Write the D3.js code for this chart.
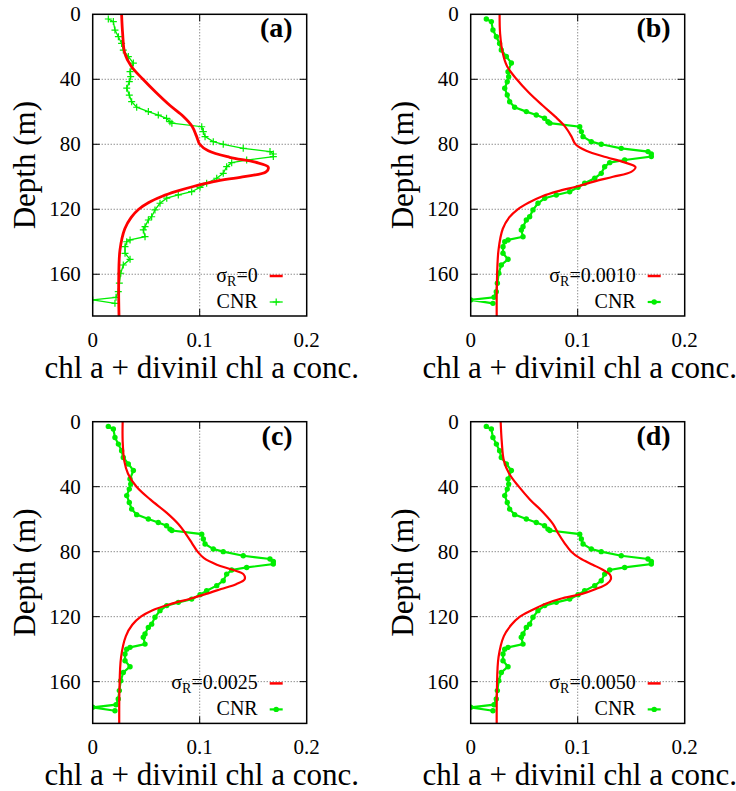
<!DOCTYPE html>
<html>
<head>
<meta charset="utf-8">
<script src="https://cdn.jsdelivr.net/npm/d3@7"></script>
<style>
  body { margin: 0; background: #fff; }
  svg { display: block; }
</style>
</head>
<body>
<script>
const width = 736
const height = 791

// CNR measured profile (same in the four panels)
const cnrDepth = [2.9, 4.5, 9.7, 13.8, 17.9, 22, 26, 30, 35.3, 38.4, 41.5, 45.5, 49.7, 53.8, 57.2,
  59.9, 62, 64, 66.1, 67, 69.2, 72.2, 75.3, 78.4, 80, 82.5, 84.5, 86, 87.6, 89.7, 91.3, 93.8,
  97.9, 100.9, 104, 106.5, 109.2, 111.2, 113.2, 116.3, 120.4, 124.6, 126.6, 130.7, 132.7, 136.9,
  138.9, 140, 143, 147.1, 150.8, 154.3, 159.4, 165.5, 170.7, 174.2, 175.8, 177.9]
const cnrConc = [0.0146, 0.0193, 0.0208, 0.024, 0.027, 0.0286, 0.0333, 0.038, 0.0349, 0.0355, 0.0342, 0.0318, 0.0342, 0.0364, 0.0411,
  0.052, 0.0613, 0.069, 0.0722, 0.074, 0.1019, 0.1034, 0.105, 0.1127, 0.122, 0.1407, 0.1657, 0.1688, 0.1688, 0.1439, 0.1299, 0.1252,
  0.122, 0.1159, 0.1065, 0.1003, 0.0925, 0.08, 0.0692, 0.0629, 0.0582, 0.0551, 0.052, 0.0489, 0.0473, 0.0489,
  0.0349, 0.0318, 0.0302, 0.0302, 0.0349, 0.0286, 0.0262, 0.0249, 0.0239, 0.0218, 0, 0.0208]

// model profiles for each sigma_R
const modelDepth = [0, 12, 24, 32, 40, 48, 56, 63, 69, 75, 80, 84, 88, 91, 94, 97, 100, 103, 106, 109, 112, 116, 120, 125, 132, 145, 165, 186]
const modelA = [0.027, 0.028, 0.030, 0.036, 0.047, 0.059, 0.072, 0.085, 0.093, 0.097, 0.100, 0.108, 0.128, 0.152, 0.164, 0.162, 0.140, 0.113, 0.094, 0.078, 0.065, 0.052, 0.043, 0.036, 0.030, 0.0255, 0.0243, 0.0246]
const modelB = [0.027, 0.0275, 0.030, 0.034, 0.043, 0.054, 0.067, 0.079, 0.088, 0.094, 0.098, 0.108, 0.127, 0.143, 0.154, 0.150, 0.133, 0.115, 0.099, 0.081, 0.067, 0.054, 0.044, 0.036, 0.030, 0.026, 0.0245, 0.0243]
const modelC = [0.028, 0.028, 0.0295, 0.033, 0.041, 0.054, 0.069, 0.080, 0.087, 0.093, 0.098, 0.104, 0.116, 0.130, 0.141, 0.142, 0.134, 0.120, 0.106, 0.091, 0.074, 0.056, 0.045, 0.037, 0.031, 0.0265, 0.025, 0.0248]
const modelD = [0.028, 0.029, 0.031, 0.036, 0.045, 0.0555, 0.068, 0.077, 0.082, 0.088, 0.094, 0.102, 0.114, 0.123, 0.130, 0.131, 0.127, 0.117, 0.104, 0.084, 0.070, 0.057, 0.046, 0.038, 0.031, 0.026, 0.0245, 0.0243]

const panelTags = ['(a)', '(b)', '(c)', '(d)']
const sigmaLabels = ['0', '0.0010', '0.0025', '0.0050']
const xTicks = [0, 0.1, 0.2]
const yTicks = [0, 40, 80, 120, 160]

// layout
const lefts = [92.7, 470.7]
const tops = [14.3, 421.7]
const plotW = 214
const plotH = 301.7
const red = '#ff0000'
const green = '#00ee00'
const serif = "'Liberation Serif', 'Times New Roman', Times, 'DejaVu Serif', serif"

const x = d3.scaleLinear().domain([0, 0.2]).range([0, plotW])
const y = d3.scaleLinear().domain([0, 185.7]).range([0, plotH])

const svg = d3.select('body').append('svg')
  .attr('width', width).attr('height', height)
  .attr('font-family', serif)
  .style('font-family', serif)

svg.append('defs').append('clipPath').attr('id', 'clip')
  .append('rect').attr('width', plotW).attr('height', plotH)

const cnr = cnrDepth.map((d, i) => ({depth: d, v: cnrConc[i]}))
const models = [modelA, modelB, modelC, modelD]

models.forEach((m, i) => {
  const g = svg.append('g')
    .attr('transform', `translate(${lefts[i % 2]},${tops[Math.floor(i / 2)]})`)
  drawPanel(g, i, m.map((v, j) => ({depth: modelDepth[j], v: v})))
})

function drawPanel(g, i, model) {
  // grid (dotted) and tick marks
  yTicks.filter(t => t > 0).forEach(t => {
    g.append('line').attr('x1', 0).attr('x2', plotW).attr('y1', y(t)).attr('y2', y(t))
      .attr('stroke', '#333').attr('stroke-width', 0.8).attr('stroke-dasharray', '1,2')
    g.append('line').attr('x1', 0).attr('x2', 7).attr('y1', y(t)).attr('y2', y(t)).attr('stroke', '#000')
    g.append('line').attr('x1', plotW - 7).attr('x2', plotW).attr('y1', y(t)).attr('y2', y(t)).attr('stroke', '#000')
  })
  xTicks.filter(t => t > 0 && t < 0.2).forEach(t => {
    g.append('line').attr('x1', x(t)).attr('x2', x(t)).attr('y1', 0).attr('y2', plotH)
      .attr('stroke', '#333').attr('stroke-width', 0.8).attr('stroke-dasharray', '1,2')
    g.append('line').attr('x1', x(t)).attr('x2', x(t)).attr('y1', 0).attr('y2', 7).attr('stroke', '#000')
    g.append('line').attr('x1', x(t)).attr('x2', x(t)).attr('y1', plotH - 7).attr('y2', plotH).attr('stroke', '#000')
  })

  // tick labels
  g.selectAll('text.yt').data(yTicks).join('text').attr('class', 'yt')
    .attr('x', -12).attr('y', d => y(d) + 7)
    .attr('text-anchor', 'end').attr('font-size', 21).text(d => d)
  g.selectAll('text.xt').data(xTicks).join('text').attr('class', 'xt')
    .attr('x', d => x(d)).attr('y', plotH + 31)
    .attr('text-anchor', 'middle').attr('font-size', 21).text(d => d)

  // axis titles
  g.append('text').attr('transform', `translate(-58,${plotH / 2}) rotate(-90)`)
    .attr('text-anchor', 'middle').attr('font-size', 31).text('Depth (m)')
  g.append('text').attr('x', plotW / 2 + 2).attr('y', plotH + 62)
    .attr('text-anchor', 'middle').attr('font-size', 31).text('chl a + divinil chl a conc.')

  // data
  const plot = g.append('g').attr('clip-path', 'url(#clip)')
  const line = d3.line().x(d => x(d.v)).y(d => y(d.depth))

  plot.append('path').datum(cnr)
    .attr('d', line).attr('fill', 'none').attr('stroke', green)
    .attr('stroke-width', i === 0 ? 1.3 : 2.2)
  if (i === 0) {
    plot.selectAll('path.mk').data(cnr).join('path').attr('class', 'mk')
      .attr('d', d => `M${x(d.v) - 3.5},${y(d.depth)}h7M${x(d.v)},${y(d.depth) - 3.5}v7`)
      .attr('stroke', green).attr('stroke-width', 1.2)
  } else {
    plot.selectAll('circle.mk').data(cnr).join('circle').attr('class', 'mk')
      .attr('cx', d => x(d.v)).attr('cy', d => y(d.depth)).attr('r', 2.7)
      .attr('fill', green)
  }

  plot.append('path').datum(model)
    .attr('d', line.curve(d3.curveCatmullRom.alpha(0.5)))
    .attr('fill', 'none').attr('stroke', red).attr('stroke-width', i === 0 ? 2.8 : 2.2)

  // frame
  g.append('rect').attr('width', plotW).attr('height', plotH)
    .attr('fill', 'none').attr('stroke', '#000').attr('stroke-width', 1.5)

  // panel tag
  g.append('text').attr('x', plotW - 14).attr('y', 23)
    .attr('text-anchor', 'end').attr('font-size', 28).attr('font-weight', 'bold')
    .text(panelTags[i])

  // legend
  const ly1 = plotH - 34
  const ly2 = plotH - 8
  const lt = g.append('text').attr('x', plotW - 49).attr('y', ly1)
    .attr('text-anchor', 'end').attr('font-size', 20)
  lt.append('tspan').text('σ')
  lt.append('tspan').attr('dy', 4).attr('font-size', 14).text('R')
  lt.append('tspan').attr('dy', -4).text('=' + sigmaLabels[i])
  g.append('line').attr('x1', plotW - 37).attr('x2', plotW - 24)
    .attr('y1', ly1 - 6).attr('y2', ly1 - 6).attr('stroke', red).attr('stroke-width', 2.5)

  g.append('text').attr('x', plotW - 49).attr('y', ly2)
    .attr('text-anchor', 'end').attr('font-size', 20).text('CNR')
  g.append('line').attr('x1', plotW - 37).attr('x2', plotW - 24)
    .attr('y1', ly2 - 6).attr('y2', ly2 - 6).attr('stroke', green).attr('stroke-width', i === 0 ? 1.3 : 2.2)
  if (i === 0) {
    g.append('path').attr('d', `M${plotW - 34},${ly2 - 6}h7M${plotW - 30.5},${ly2 - 9.5}v7`)
      .attr('stroke', green).attr('stroke-width', 1.2)
  } else {
    g.append('circle').attr('cx', plotW - 30.5).attr('cy', ly2 - 6).attr('r', 2.7).attr('fill', green)
  }
}
</script>
</body>
</html>
